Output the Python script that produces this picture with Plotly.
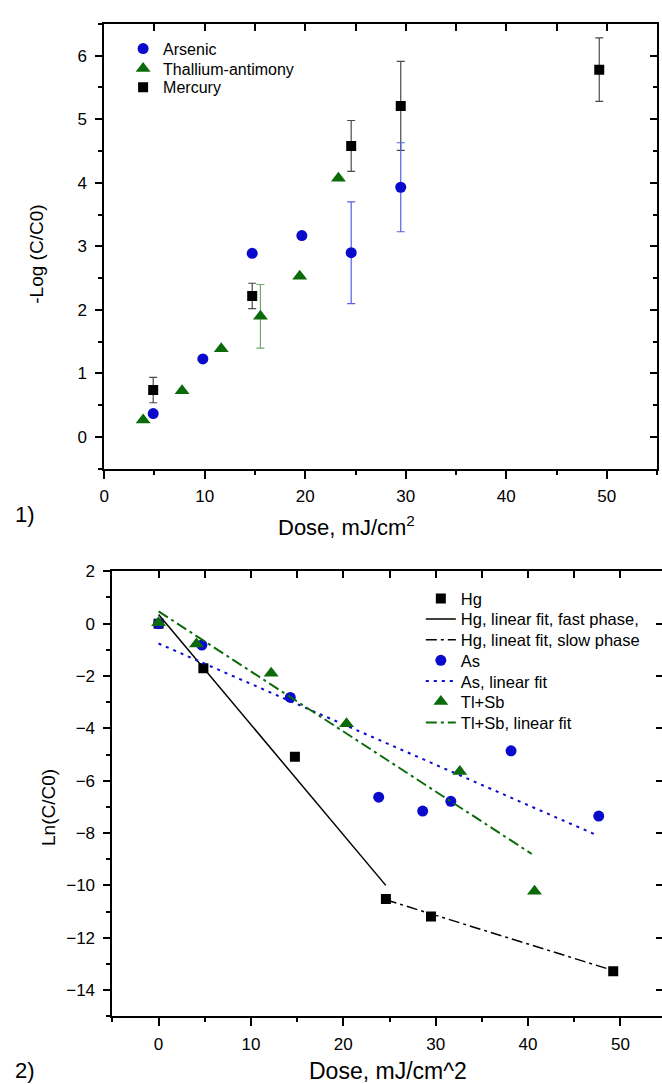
import plotly.graph_objects as go

# ---------------- Panel 1 data: -Log(C/C0) vs dose ----------------
as_dose = [4.87, 9.81, 14.72, 19.66, 24.57, 29.5]
as_logr = [0.37, 1.23, 2.89, 3.17, 2.90, 3.93]
as_err = [0, 0, 0, 0, 0.8, 0.7]

tl_dose = [3.87, 7.74, 11.64, 15.54, 19.45, 23.3]
tl_logr = [0.27, 0.73, 1.39, 1.90, 2.53, 4.07]
tl_err = [0, 0, 0, 0.5, 0, 0]

hg_dose = [4.87, 14.72, 24.57, 29.5, 49.25]
hg_logr = [0.74, 2.22, 4.58, 5.21, 5.78]
hg_err = [0.2, 0.2, 0.4, 0.7, 0.5]

# ---------------- Panel 2 data: Ln(C/C0) vs dose ----------------
hg2_dose = [0, 4.85, 14.76, 24.61, 29.49, 49.22]
hg2_ln = [0, -1.70, -5.09, -10.52, -11.19, -13.28]
as2_dose = [0, 4.69, 14.26, 23.83, 28.59, 31.64, 38.16, 47.65]
as2_ln = [0, -0.82, -2.82, -6.63, -7.16, -6.79, -4.86, -7.35]
tl2_dose = [0, 4.10, 12.19, 20.35, 32.61, 40.70]
tl2_ln = [0.03, -0.78, -1.90, -3.82, -5.65, -10.22]

hg_fast_x = [0, 24.6]
hg_fast_y = [0.35, -10.0]
hg_slow_x = [24.6, 49.2]
hg_slow_y = [-10.55, -13.25]
as_fit_x = [0, 47.3]
as_fit_y = [-0.76, -8.06]
tl_fit_x = [0, 40.4]
tl_fit_y = [0.47, -8.8]

BLUE = "#0A0ACD"
GREEN = "#0B6B0B"
BLACK = "#000000"
FONT = "Liberation Sans, Arial, sans-serif"

W, H = 662, 1084


def px_x(p):
    return p / W


def px_y(p):
    return 1 - p / H


fig = go.Figure()


def err_trace(xs, ys, es, color, xa, ya):
    sx = [x for x, e in zip(xs, es) if e > 0]
    sy = [y for y, e in zip(ys, es) if e > 0]
    se = [e for e in es if e > 0]
    return go.Scatter(x=sx, y=sy, mode="markers", marker=dict(opacity=0, size=1),
                      error_y=dict(type="data", array=se, visible=True, color=color,
                                   thickness=1.2, width=4),
                      showlegend=False, hoverinfo="skip", xaxis=xa, yaxis=ya)


# error bars first (beneath markers)
fig.add_trace(err_trace(hg_dose, hg_logr, hg_err, "#4a4a4a", "x", "y"))
fig.add_trace(err_trace(as_dose, as_logr, as_err, "#5060E8", "x", "y"))
fig.add_trace(err_trace(tl_dose, tl_logr, tl_err, "#70A870", "x", "y"))

fig.add_trace(go.Scatter(x=as_dose, y=as_logr, mode="markers", name="Arsenic",
                         marker=dict(symbol="circle", size=11, color=BLUE),
                         legend="legend", xaxis="x", yaxis="y"))
fig.add_trace(go.Scatter(x=tl_dose, y=tl_logr, mode="markers", name="Thallium-antimony",
                         marker=dict(symbol="triangle-up", size=13, color=GREEN),
                         legend="legend2", xaxis="x", yaxis="y"))
fig.add_trace(go.Scatter(x=hg_dose, y=hg_logr, mode="markers", name="Mercury",
                         marker=dict(symbol="square", size=10, color=BLACK),
                         legend="legend3", xaxis="x", yaxis="y"))

# Panel 2
fig.add_trace(go.Scatter(x=hg2_dose, y=hg2_ln, mode="markers", name="Hg",
                         marker=dict(symbol="square", size=10, color=BLACK),
                         legend="legend4", xaxis="x2", yaxis="y2"))
fig.add_trace(go.Scatter(x=hg_fast_x, y=hg_fast_y, mode="lines",
                         name="Hg, linear fit, fast phase,",
                         line=dict(color=BLACK, width=1.5),
                         legend="legend5", xaxis="x2", yaxis="y2"))
fig.add_trace(go.Scatter(x=hg_slow_x, y=hg_slow_y, mode="lines",
                         name="Hg, lineat fit, slow phase",
                         line=dict(color=BLACK, width=1.5, dash="11px,4px,3px,4px"),
                         legend="legend6", xaxis="x2", yaxis="y2"))
fig.add_trace(go.Scatter(x=as2_dose, y=as2_ln, mode="markers", name="As",
                         marker=dict(symbol="circle", size=11, color=BLUE),
                         legend="legend7", xaxis="x2", yaxis="y2"))
fig.add_trace(go.Scatter(x=as_fit_x, y=as_fit_y, mode="lines", name="As, linear fit",
                         line=dict(color=BLUE, width=2, dash="3px,5px"),
                         legend="legend8", xaxis="x2", yaxis="y2"))
fig.add_trace(go.Scatter(x=tl2_dose, y=tl2_ln, mode="markers", name="Tl+Sb",
                         marker=dict(symbol="triangle-up", size=13, color=GREEN),
                         legend="legend9", xaxis="x2", yaxis="y2"))
fig.add_trace(go.Scatter(x=tl_fit_x, y=tl_fit_y, mode="lines", name="Tl+Sb, linear fit",
                         line=dict(color=GREEN, width=2, dash="11px,4px,3px,4px"),
                         legend="legend10", xaxis="x2", yaxis="y2"))

# dummy traces for mirrored inside ticks
fig.add_trace(go.Scatter(x=[None], y=[None], showlegend=False, xaxis="x3", yaxis="y3"))
fig.add_trace(go.Scatter(x=[None], y=[None], showlegend=False, xaxis="x4", yaxis="y4"))

tickfont = dict(family=FONT, size=17, color="black")
common = dict(showgrid=False, zeroline=False, linecolor="black", tickcolor="black",
              tickwidth=1.5, tickfont=tickfont)

top_xdom = [px_x(100), px_x(657)]
top_ydom = [px_y(463.7), px_y(15)]
bot_xdom = [px_x(108.2), 1.0]
bot_ydom = [px_y(1015.7), px_y(567)]

fig.update_layout(
    width=W, height=H, margin=dict(l=0, r=0, t=0, b=0),
    paper_bgcolor="white", plot_bgcolor="white",
    font=dict(family=FONT, color="black"),
    xaxis=dict(domain=top_xdom, anchor="y", range=[0, 55], tick0=0, dtick=10,
               ticks="outside", ticklen=8, showline=True, linewidth=1.8, mirror=True,
               ticklabelstandoff=3,
               minor=dict(dtick=5, tick0=0, ticks="outside", ticklen=4, tickwidth=1.5,
                          tickcolor="black"), **common),
    yaxis=dict(domain=top_ydom, anchor="x", range=[-0.5, 6.5], tick0=0, dtick=1,
               ticks="outside", ticklen=7, showline=True, linewidth=1.8, mirror=True,
               ticklabelstandoff=5,
               minor=dict(dtick=0.5, tick0=0, ticks="outside", ticklen=4, tickwidth=1.5,
                          tickcolor="black"), **common),
    xaxis3=dict(overlaying="x", anchor="y", side="top", range=[0, 55], tick0=0, dtick=5,
                ticks="inside", ticklen=7, showticklabels=False, showline=False, **common),
    yaxis3=dict(overlaying="y", anchor="x", side="right", range=[-0.5, 6.5], tick0=0, dtick=1,
                ticks="inside", ticklen=7, showticklabels=False, showline=False,
                minor=dict(dtick=0.5, tick0=0, ticks="inside", ticklen=4, tickwidth=1.5,
                           tickcolor="black"), **common),
    xaxis2=dict(domain=bot_xdom, anchor="y2", range=[-5, 54.5], tick0=0, dtick=10,
                ticks="outside", ticklen=8, showline=True, linewidth=1.8, mirror=True,
                ticklabelstandoff=3,
                minor=dict(dtick=5, tick0=0, ticks="outside", ticklen=4, tickwidth=1.5,
                           tickcolor="black"), **common),
    yaxis2=dict(domain=bot_ydom, anchor="x2", range=[-15, 2], tick0=0, dtick=2,
                ticks="outside", ticklen=7, showline=True, linewidth=1.8, mirror=False,
                ticklabelstandoff=5,
                minor=dict(dtick=1, tick0=0, ticks="outside", ticklen=4, tickwidth=1.5,
                           tickcolor="black"), **common),
    xaxis4=dict(overlaying="x2", anchor="y2", side="top", range=[-5, 54.5], tick0=0, dtick=5,
                ticks="inside", ticklen=7, showticklabels=False, showline=False, **common),
    yaxis4=dict(overlaying="y2", anchor="x2", side="right", range=[-15, 2], tick0=0, dtick=2,
                ticks="inside", ticklen=6, showticklabels=False, showline=False, **common),
    showlegend=True,
)

# one legend per entry so each row sits where the reference puts it
top_rows = [40, 60, 79]
bot_rows = [594.7, 615.3, 636.3, 657, 678, 698.7, 719.7]
legend_specs = {}
for i, yrow in enumerate(top_rows):
    legend_specs["legend" if i == 0 else f"legend{i + 1}"] = (119, yrow, 16)
for j, yrow in enumerate(bot_rows):
    legend_specs[f"legend{j + 4}"] = (419, yrow, 16.5)
for key, (lx, ly, fs) in legend_specs.items():
    fig.update_layout({key: dict(x=px_x(lx), y=px_y(ly), xanchor="left", yanchor="middle",
                                 bgcolor="rgba(0,0,0,0)", borderwidth=0,
                                 font=dict(family=FONT, size=fs, color="black"),
                                 itemsizing="trace")})

ann = [
    dict(text="-Log (C/C0)", x=px_x(32), y=px_y(247), textangle=-90, size=19),
    dict(text="Dose, mJ/cm<sup>2</sup>", x=px_x(344), y=px_y(521), textangle=0, size=22),
    dict(text="1)", x=px_x(20), y=px_y(510), textangle=0, size=22),
    dict(text="Ln(C/C0)", x=px_x(44), y=px_y(805), textangle=-90, size=19),
    dict(text="Dose, mJ/cm^2", x=px_x(386), y=px_y(1071), textangle=0, size=23),
    dict(text="2)", x=px_x(20), y=px_y(1070), textangle=0, size=22),
]
for a in ann:
    fig.add_annotation(text=a["text"], x=a["x"], y=a["y"], xref="paper", yref="paper",
                       xanchor="center", yanchor="middle", showarrow=False,
                       textangle=a["textangle"],
                       font=dict(family=FONT, size=a["size"], color="black"))

fig.write_html("out.html")
